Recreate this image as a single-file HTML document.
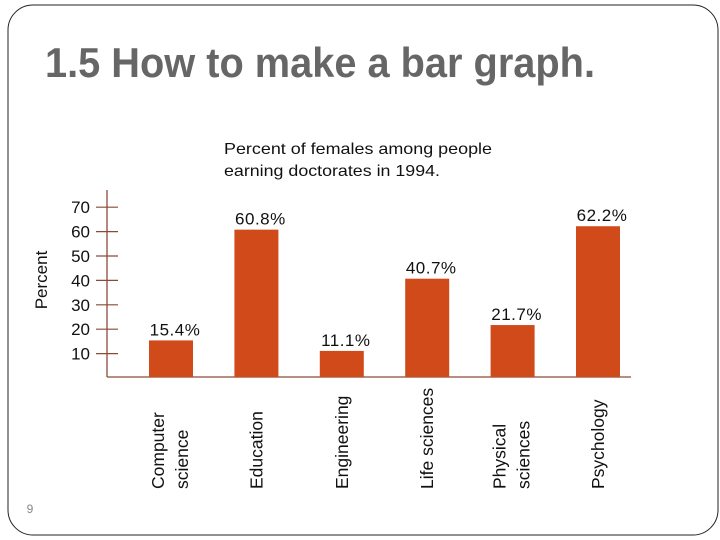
<!DOCTYPE html>
<html><head><meta charset="utf-8"><style>
html,body{margin:0;padding:0;background:#fff;}
svg{display:block;font-family:"Liberation Sans",Arial,sans-serif;}
</style></head><body>
<svg id="chart" width="720" height="540" viewBox="0 0 720 540">
  <path d="M33,5 H693 A25,25 0 0 1 718,30 V510 A25,25 0 0 1 693,535 H33 A25,25 0 0 1 8,510 V30 A25,25 0 0 1 33,5 Z" fill="none" stroke="#222" stroke-width="1"/>
  <text x="45" y="77" font-size="42" font-weight="bold" fill="#666" textLength="550" lengthAdjust="spacingAndGlyphs">1.5 How to make a bar graph.</text>
  <text x="224" y="154" font-size="16" fill="#111" textLength="268" lengthAdjust="spacingAndGlyphs">Percent of females among people</text>
  <text x="224" y="176" font-size="16" fill="#111" textLength="216" lengthAdjust="spacingAndGlyphs">earning doctorates in 1994.</text>
  <text transform="translate(47,280) rotate(-90)" text-anchor="middle" font-size="17" fill="#111">Percent</text>
  <text x="30" y="513" font-size="12" fill="#888" text-anchor="middle">9</text>
  <g id="plot"></g>
</svg>
<script>
const categories = ["Computer science","Education","Engineering","Life sciences","Physical sciences","Psychology"];
const labelLines = [["Computer","science"],["Education"],["Engineering"],["Life sciences"],["Physical","sciences"],["Psychology"]];
const values = [15.4, 60.8, 11.1, 40.7, 21.7, 62.2];
const valueLabels = ["15.4%","60.8%","11.1%","40.7%","21.7%","62.2%"];
const yTicks = [10,20,30,40,50,60,70];

const NS = "http://www.w3.org/2000/svg";
const g = document.getElementById('plot');
const y0 = 378, pxPerUnit = 2.44;
const yScale = v => y0 - v * pxPerUnit;
const xStart = 149, step = 85.4, barW = 44;
const xScale = i => xStart + i * step;
const axisColor = "#8a4a3a", barColor = "#d14a1a";

function mk(tag, attrs){ const e=document.createElementNS(NS,tag); for(const k in attrs) e.setAttribute(k,attrs[k]); g.appendChild(e); return e; }

const ax = mk('line',{x1:107,y1:190,x2:107,y2:y0-1,stroke:axisColor,'stroke-width':1.3});


const bx = mk('line',{x1:107,y1:y0-1,x2:631,y2:y0-1,stroke:axisColor,'stroke-width':1.3});



yTicks.forEach(t=>{
  const y=yScale(t);
  const tk = mk('line',{x1:96,y1:y,x2:118,y2:y,stroke:axisColor,'stroke-width':1.2});
  
  
  const tl = mk('text',{x:90,y:y+6,'text-anchor':'end','font-size':17,fill:'#111'});
  tl.textContent=t;
  
  
});

values.forEach((v,i)=>{
  const x=xScale(i), y=yScale(v);
  const r = mk('rect',{x:x,y:y,width:barW,height:y0-1-y,fill:barColor});
  
  
  const vl = mk('text',{x:x+barW/2+4,y:y-5,'text-anchor':'middle','font-size':17,fill:'#111','letter-spacing':'0.5'});
  vl.textContent=valueLabels[i];
  
  
  const lines = labelLines[i];
  lines.forEach((ln,j)=>{
    const cx = x+barW/2 + (lines.length===2 ? (j===0?-7:17) : 6);
    const t = mk('text',{transform:`translate(${cx},489) rotate(-90)`,'text-anchor':'start','font-size':17.5,fill:'#111'});
    t.textContent=ln;
    
    
  });
});
</script>
</body></html>
